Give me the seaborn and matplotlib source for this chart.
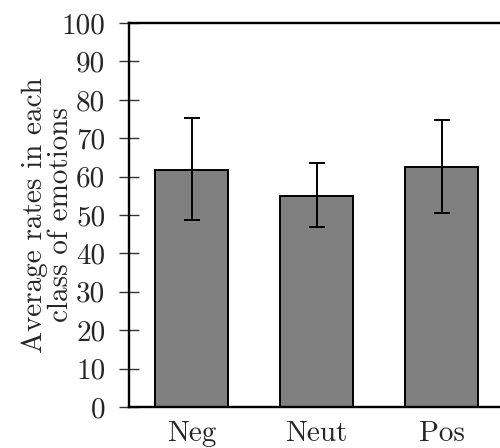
import matplotlib
matplotlib.use("Agg")
import matplotlib.pyplot as plt
import seaborn as sns
import pandas as pd

categories = ["Neg", "Neut", "Pos"]
means = [61.7, 54.9, 62.4]
err_low = [48.6, 46.8, 50.6]
err_high = [75.4, 63.6, 74.7]
yticks = [0, 10, 20, 30, 40, 50, 60, 70, 80, 90, 100]
ylabel = "Average rates in each\nclass of emotions"

sns.set_style("white")
plt.rcParams["font.family"] = ["cmr10", "DejaVu Serif"]
plt.rcParams["mathtext.fontset"] = "cm"
plt.rcParams["axes.formatter.use_mathtext"] = True

df = pd.DataFrame({"cat": categories, "val": means})

fig = plt.figure(figsize=(5.0, 4.48), dpi=100)
ax = fig.add_axes([0.258, 0.0915, 0.75, 0.857])

sns.barplot(data=df, x="cat", y="val", ax=ax, color="#808080", saturation=1,
            width=0.584, edgecolor="black", linewidth=1.4, errorbar=None)

lower = [m - l for m, l in zip(means, err_low)]
upper = [h - m for m, h in zip(means, err_high)]
ax.errorbar(x=list(range(len(categories))), y=means, yerr=[lower, upper],
            fmt="none", ecolor="black", elinewidth=1.4, capsize=5.5, capthick=1.4)

ax.set_xlim(-0.5, 2.5)
ax.set_ylim(0, 100)
ax.set_yticks(yticks, labels=[str(t) for t in yticks])
ax.set_xlabel("")
ax.set_ylabel(ylabel, fontsize=21, multialignment="center", linespacing=0.98)
ax.yaxis.set_label_coords(-0.147, 0.5)

for s in ["left", "bottom", "top"]:
    ax.spines[s].set_linewidth(1.7)
    ax.spines[s].set_color("black")
ax.spines["right"].set_visible(False)

ax.tick_params(axis="y", direction="inout", length=15, width=1.0, color="#333333",
               labelsize=21, pad=9.5, left=True)
ax.tick_params(axis="x", length=0, labelsize=21, pad=10)

fig.savefig("out.png", dpi=100)
